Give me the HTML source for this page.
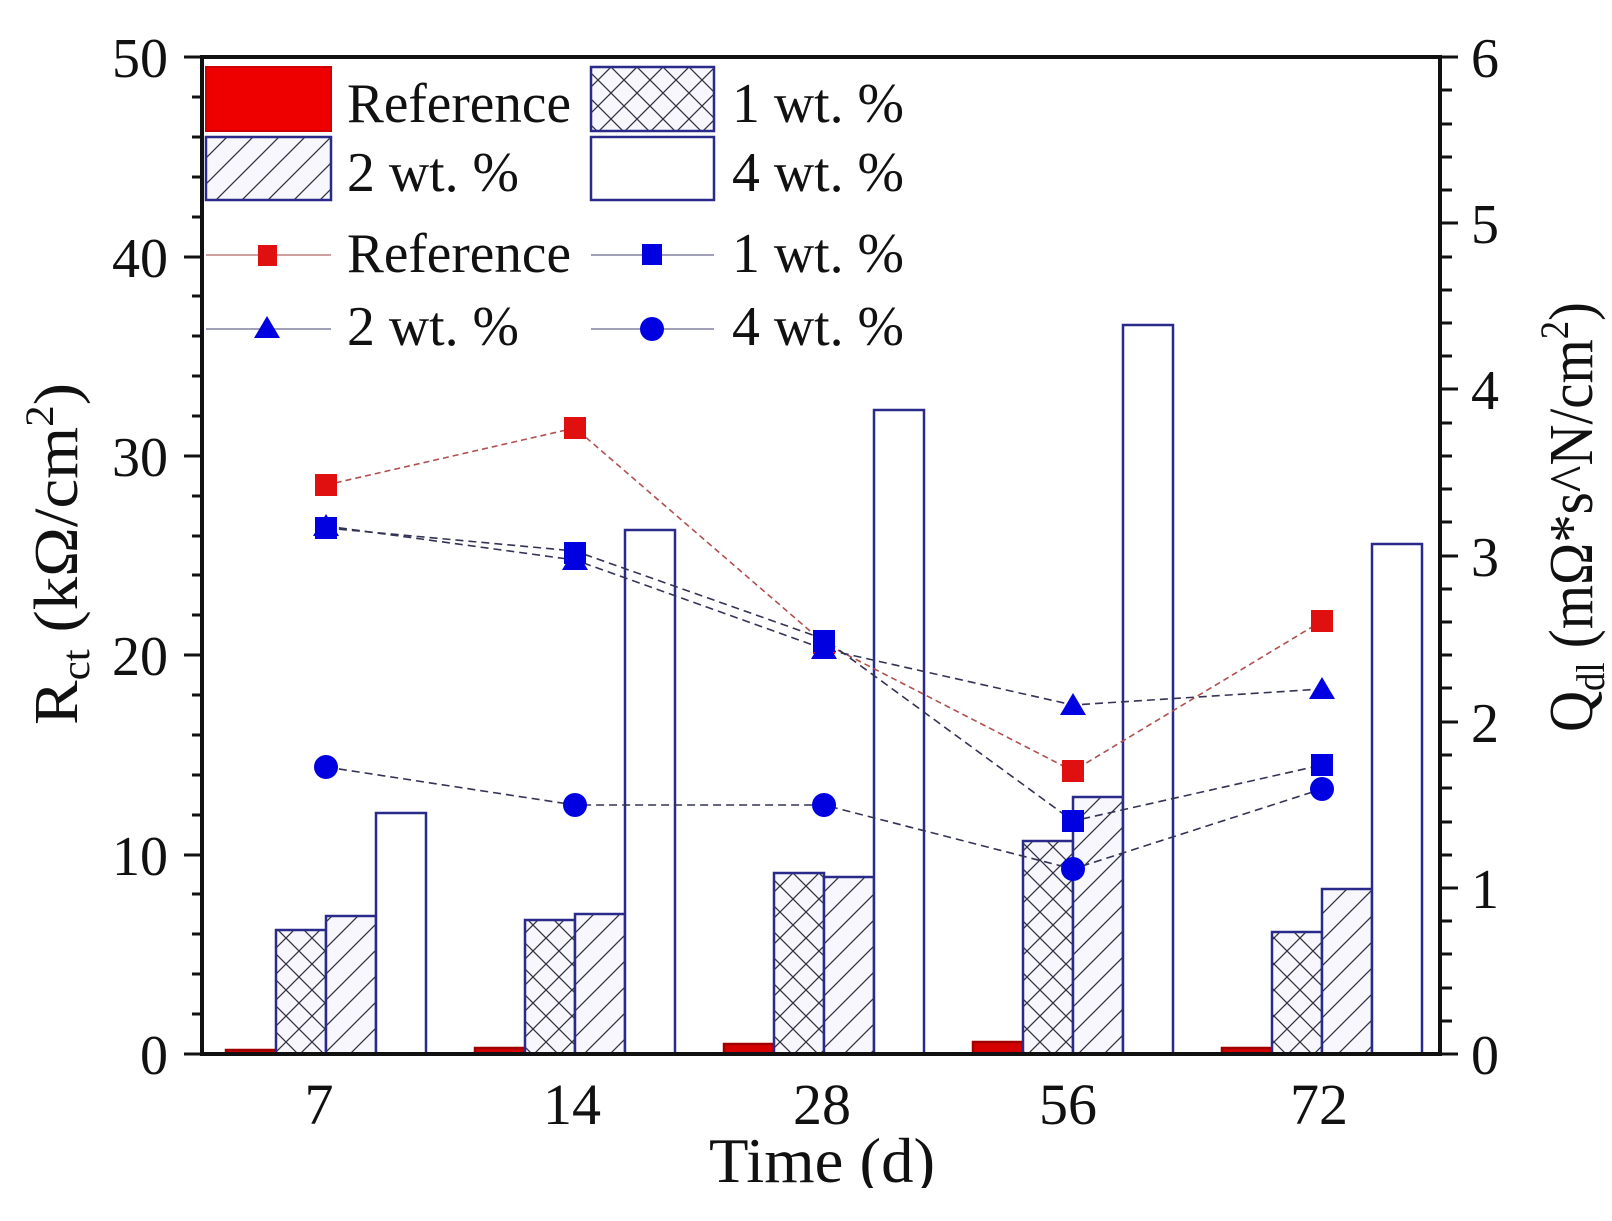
<!DOCTYPE html>
<html><head><meta charset="utf-8"><style>
html,body{margin:0;padding:0;background:#fff;}
svg{display:block;}
text{font-family:"Liberation Serif",serif;fill:#111;}
</style></head><body>
<svg width="1612" height="1221" viewBox="0 0 1612 1221" xmlns="http://www.w3.org/2000/svg">
<defs>
<pattern id="xh" width="26" height="26" patternUnits="userSpaceOnUse" patternTransform="translate(0,2)">
<rect width="26" height="26" fill="#f7f7fd"/>
<path d="M0,0L26,26M26,0L0,26" stroke="#333344" stroke-width="1.3"/>
</pattern>
<pattern id="dh" width="26" height="26" patternUnits="userSpaceOnUse">
<rect width="26" height="26" fill="#f7f7fd"/>
<path d="M0,26L26,0M-13,13L13,-13M13,39L39,13" stroke="#333344" stroke-width="1.3"/>
</pattern>
</defs>
<rect width="1612" height="1221" fill="#fff"/>

<!-- bars -->
<g stroke="#2a2a8a" stroke-width="2.5">
<!-- group 7 start 226 -->
<rect x="226" y="1050" width="50" height="4" fill="#d40000" stroke="#a00000"/>
<rect x="276" y="930" width="50" height="124" fill="url(#xh)"/>
<rect x="326" y="916" width="50" height="138" fill="url(#dh)"/>
<rect x="376" y="813" width="50" height="241" fill="#fff"/>
<!-- 14 start 475 -->
<rect x="475" y="1048" width="50" height="6" fill="#d40000" stroke="#a00000"/>
<rect x="525" y="920" width="50" height="134" fill="url(#xh)"/>
<rect x="575" y="914" width="50" height="140" fill="url(#dh)"/>
<rect x="625" y="530" width="50" height="524" fill="#fff"/>
<!-- 28 start 724 -->
<rect x="724" y="1044" width="50" height="10" fill="#d40000" stroke="#a00000"/>
<rect x="774" y="873" width="50" height="181" fill="url(#xh)"/>
<rect x="824" y="877" width="50" height="177" fill="url(#dh)"/>
<rect x="874" y="410" width="50" height="644" fill="#fff"/>
<!-- 56 start 973 -->
<rect x="973" y="1042" width="50" height="12" fill="#d40000" stroke="#a00000"/>
<rect x="1023" y="841" width="50" height="213" fill="url(#xh)"/>
<rect x="1073" y="797" width="50" height="257" fill="url(#dh)"/>
<rect x="1123" y="325" width="50" height="729" fill="#fff"/>
<!-- 72 start 1222 -->
<rect x="1222" y="1048" width="50" height="6" fill="#d40000" stroke="#a00000"/>
<rect x="1272" y="932" width="50" height="122" fill="url(#xh)"/>
<rect x="1322" y="889" width="50" height="165" fill="url(#dh)"/>
<rect x="1372" y="544" width="50" height="510" fill="#fff"/>
</g>

<!-- lines -->
<g fill="none" stroke-width="1.6">
<polyline points="326,485 575,428 824,643 1073,771 1322,621" stroke="#b05050" stroke-dasharray="6,4"/>
<polyline points="326,528 575,551 824,639 1073,821 1322,765" stroke="#333355" stroke-dasharray="8,5"/>
<polyline points="326,526 575,560 824,649 1073,705 1322,689" stroke="#333355" stroke-dasharray="8,5"/>
<polyline points="326,767 575,805 824,805 1073,869 1322,789" stroke="#333355" stroke-dasharray="8,5"/>
</g>
<!-- markers -->
<g fill="#0000e0">
<rect x="315" y="474" width="22" height="22" fill="#e01010"/>
<rect x="564" y="417" width="22" height="22" fill="#e01010"/>
<rect x="813" y="632" width="22" height="22" fill="#e01010"/>
<rect x="1062" y="760" width="22" height="22" fill="#e01010"/>
<rect x="1311" y="610" width="22" height="22" fill="#e01010"/>
<polygon points="326,514 339,536 313,536"/>
<polygon points="575,548 588,570 562,570"/>
<polygon points="824,637 837,659 811,659"/>
<polygon points="1073,693 1086,715 1060,715"/>
<polygon points="1322,677 1335,699 1309,699"/>
<rect x="315" y="517" width="22" height="22"/>
<rect x="564" y="542" width="22" height="22"/>
<rect x="813" y="630" width="22" height="22"/>
<rect x="1062" y="810" width="22" height="22"/>
<rect x="1311" y="754" width="22" height="22"/>
<circle cx="326" cy="767" r="12"/>
<circle cx="575" cy="805" r="12"/>
<circle cx="824" cy="805" r="12"/>
<circle cx="1073" cy="869" r="12"/>
<circle cx="1322" cy="789" r="12"/>
</g>

<!-- axes -->
<g stroke="#111" stroke-width="4" fill="none">
<rect x="202" y="57" width="1238" height="997"/>
</g>
<g stroke="#111" stroke-width="3">
<path d="M202,1054h-18M202,855h-18M202,655h-18M202,456h-18M202,257h-18M202,57h-18"/>
<path d="M202,1014h-10M202,974h-10M202,934h-10M202,894h-10M202,815h-10M202,775h-10M202,735h-10M202,695h-10M202,615h-10M202,575h-10M202,536h-10M202,496h-10M202,416h-10M202,376h-10M202,336h-10M202,296h-10M202,217h-10M202,177h-10M202,137h-10M202,97h-10"/>
<path d="M1440,1054h18M1440,888h18M1440,722h18M1440,556h18M1440,389h18M1440,223h18M1440,57h18"/>
<path d="M1440,1021h12M1440,988h12M1440,954h12M1440,921h12M1440,855h12M1440,822h12M1440,788h12M1440,755h12M1440,688h12M1440,655h12M1440,622h12M1440,589h12M1440,522h12M1440,489h12M1440,456h12M1440,423h12M1440,356h12M1440,323h12M1440,290h12M1440,257h12M1440,190h12M1440,157h12M1440,124h12M1440,90h12"/>
</g>

<!-- tick labels -->
<g font-size="56" text-anchor="end">
<text x="168" y="1074">0</text>
<text x="168" y="875">10</text>
<text x="168" y="675">20</text>
<text x="168" y="476">30</text>
<text x="168" y="277">40</text>
<text x="168" y="77">50</text>
</g>
<g font-size="56">
<text x="1471" y="1074">0</text>
<text x="1471" y="908">1</text>
<text x="1471" y="742">2</text>
<text x="1471" y="576">3</text>
<text x="1471" y="409">4</text>
<text x="1471" y="243">5</text>
<text x="1471" y="77">6</text>
</g>
<g font-size="58" text-anchor="middle">
<text x="319" y="1124">7</text>
<text x="572" y="1124">14</text>
<text x="822" y="1124">28</text>
<text x="1068" y="1124">56</text>
<text x="1319" y="1124">72</text>
</g>
<text x="709" y="1182" font-size="64" textLength="226" lengthAdjust="spacingAndGlyphs">Time (d)</text>
<rect x="0" y="1188" width="1612" height="33" fill="#fff"/>

<!-- axis titles -->
<text transform="translate(77,725) rotate(-90)" font-size="62" textLength="342" lengthAdjust="spacingAndGlyphs">R<tspan font-size="40" dy="12">ct</tspan><tspan dy="-12"> (kΩ/cm</tspan><tspan font-size="40" dy="-24">2</tspan><tspan dy="24">)</tspan></text>
<text transform="translate(1592,732) rotate(-90)" font-size="62" textLength="430" lengthAdjust="spacingAndGlyphs">Q<tspan font-size="40" dy="12">dl</tspan><tspan dy="-12"> (mΩ*s^N/cm</tspan><tspan font-size="40" dy="-24">2</tspan><tspan dy="24">)</tspan></text>

<!-- legend -->
<rect x="206" y="67" width="125" height="64" fill="#ee0000" stroke="#d00000" stroke-width="2"/>
<rect x="591" y="67" width="123" height="64" fill="url(#xh)" stroke="#2a2a8a" stroke-width="2.5"/>
<rect x="206" y="137" width="125" height="63" fill="url(#dh)" stroke="#2a2a8a" stroke-width="2.5"/>
<rect x="591" y="137" width="123" height="63" fill="#fff" stroke="#2a2a8a" stroke-width="2.5"/>
<g font-size="56">
<text x="347" y="122" textLength="224" lengthAdjust="spacingAndGlyphs">Reference</text>
<text x="732" y="122" textLength="172" lengthAdjust="spacingAndGlyphs">1 wt. %</text>
<text x="347" y="191" textLength="172" lengthAdjust="spacingAndGlyphs">2 wt. %</text>
<text x="732" y="191" textLength="172" lengthAdjust="spacingAndGlyphs">4 wt. %</text>
<text x="347" y="272" textLength="224" lengthAdjust="spacingAndGlyphs">Reference</text>
<text x="732" y="272" textLength="172" lengthAdjust="spacingAndGlyphs">1 wt. %</text>
<text x="347" y="345" textLength="172" lengthAdjust="spacingAndGlyphs">2 wt. %</text>
<text x="732" y="345" textLength="172" lengthAdjust="spacingAndGlyphs">4 wt. %</text>
</g>
<g stroke-width="1.6">
<path d="M206,255H331" stroke="#c08080"/>
<path d="M591,255H714" stroke="#8080a0"/>
<path d="M206,329H331" stroke="#8080a0"/>
<path d="M591,329H714" stroke="#8080a0"/>
</g>
<rect x="258" y="245" width="19" height="21" fill="#e01010"/>
<rect x="642" y="244" width="20" height="21" fill="#0000e0"/>
<polygon points="267,316 280,338 254,338" fill="#0000e0"/>
<circle cx="652" cy="329" r="12" fill="#0000e0"/>
</svg>
</body></html>
